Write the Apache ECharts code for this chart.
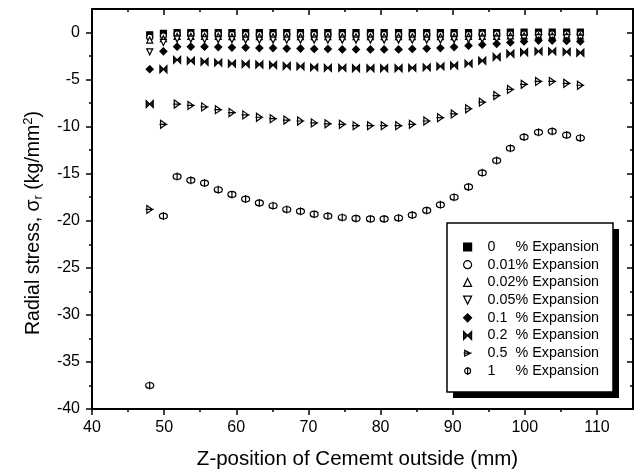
<!DOCTYPE html>
<html>
<head>
<meta charset="utf-8">
<script src="https://cdn.jsdelivr.net/npm/echarts@6/dist/echarts.min.js"></script>
<style>html,body{margin:0;padding:0;background:#fff}#c{width:640px;height:475px}</style>
</head>
<body>
<div id="c"></div>
<script>
// Z-position (mm)
const xs = [48.0, 49.9, 51.8, 53.7, 55.6, 57.5, 59.4, 61.3, 63.2, 65.1, 67.0, 68.9, 70.8, 72.7, 74.7, 76.6,
            78.6, 80.5, 82.5, 84.4, 86.4, 88.3, 90.2, 92.2, 94.1, 96.1, 98.0, 99.9, 101.9, 103.8, 105.8, 107.7];
// Radial stress (kg/mm^2) for each expansion ratio
const s0   = [-0.25,-0.1,0.0,0.0,0.0,0.0,0.0,0.0,0.0,0.0,0.0,0.0,0.0,0.0,0.0,0.0,0.0,0.0,0.0,0.0,0.0,0.0,0.0,0.0,0.0,0.0,0.05,0.05,0.05,0.05,0.05,0.05];
const s001 = [-0.5,-0.35,-0.15,-0.15,-0.15,-0.15,-0.2,-0.2,-0.2,-0.2,-0.2,-0.2,-0.2,-0.2,-0.2,-0.2,-0.2,-0.2,-0.2,-0.2,-0.2,-0.2,-0.2,-0.2,-0.15,-0.15,-0.15,-0.15,-0.15,-0.15,-0.15,-0.15];
const s002 = [-0.8,-0.65,-0.4,-0.4,-0.4,-0.4,-0.45,-0.45,-0.45,-0.45,-0.45,-0.45,-0.45,-0.45,-0.45,-0.45,-0.45,-0.45,-0.45,-0.45,-0.45,-0.45,-0.45,-0.4,-0.4,-0.4,-0.35,-0.35,-0.35,-0.35,-0.35,-0.35];
const s005 = [-2.05,-1.05,-0.7,-0.7,-0.75,-0.75,-0.75,-0.8,-0.8,-0.8,-0.8,-0.8,-0.8,-0.8,-0.8,-0.8,-0.8,-0.8,-0.8,-0.8,-0.8,-0.8,-0.75,-0.75,-0.7,-0.7,-0.65,-0.6,-0.55,-0.55,-0.55,-0.6];
const s01  = [-3.9,-2.0,-1.5,-1.5,-1.5,-1.55,-1.6,-1.6,-1.65,-1.65,-1.7,-1.7,-1.75,-1.75,-1.8,-1.8,-1.8,-1.8,-1.8,-1.75,-1.7,-1.65,-1.55,-1.4,-1.3,-1.2,-1.05,-0.95,-0.85,-0.85,-0.9,-0.95];
const s02  = [-7.6,-3.9,-2.9,-3.0,-3.1,-3.2,-3.3,-3.35,-3.4,-3.45,-3.55,-3.6,-3.7,-3.75,-3.75,-3.8,-3.8,-3.8,-3.8,-3.75,-3.7,-3.6,-3.5,-3.3,-3.0,-2.6,-2.25,-2.1,-2.0,-2.0,-2.05,-2.15];
const s05  = [-18.8,-9.75,-7.6,-7.75,-7.9,-8.2,-8.5,-8.75,-9.0,-9.15,-9.3,-9.4,-9.6,-9.7,-9.75,-9.9,-9.9,-9.9,-9.9,-9.75,-9.4,-9.05,-8.65,-8.1,-7.4,-6.7,-6.05,-5.5,-5.2,-5.2,-5.4,-5.6];
const s1   = [-37.5,-19.5,-15.3,-15.7,-16.0,-16.7,-17.2,-17.7,-18.1,-18.4,-18.8,-19.0,-19.3,-19.5,-19.65,-19.75,-19.8,-19.8,-19.7,-19.4,-18.9,-18.3,-17.5,-16.4,-14.9,-13.6,-12.3,-11.1,-10.6,-10.5,-10.9,-11.2];
const expansions = ['0', '0.01', '0.02', '0.05', '0.1', '0.2', '0.5', '1'];
const values = [s0, s001, s002, s005, s01, s02, s05, s1];
// tick values
const xMajor = [40, 50, 60, 70, 80, 90, 100, 110];
const xMinor = [45, 55, 65, 75, 85, 95, 105];
const yMajor = [-40, -35, -30, -25, -20, -15, -10, -5, 0];
const yMinor = [-37.5, -32.5, -27.5, -22.5, -17.5, -12.5, -7.5, -2.5];

const FONT = 'Liberation Sans, Arial, sans-serif';
const markers = [
  {symbol: 'rect', size: 6, fill: '#000'},
  {symbol: 'circle', size: 6, fill: '#fff'},
  {symbol: 'triangle', size: 6, fill: '#fff'},
  {symbol: 'path://M-1,-1L1,-1L0,1Z', size: 6, fill: '#fff'},
  {symbol: 'diamond', size: 7, fill: '#000'},
  {symbol: 'path://M-1,-1L1,1L1,-1L-1,1Z', size: 7, fill: '#222'},
  {symbol: 'path://M-1,-1L1,0L-1,1Z M-1.4,0L1.4,0', size: 8, fill: '#fff'},
  {symbol: 'path://M-1,0A1,1,0,1,1,1,0A1,1,0,1,1,-1,0Z M0,-1.35L0,1.35', size: 8, fill: '#fff'}
];
const seriesName = e => e + ' % Expansion';

const series = expansions.map((e, k) => ({
  name: seriesName(e),
  type: 'scatter',
  xAxisIndex: 0, yAxisIndex: 0,
  symbol: markers[k].symbol,
  symbolSize: markers[k].size,
  itemStyle: {color: markers[k].fill, borderColor: '#000', borderWidth: 1.2, opacity: 1},
  data: xs.map((x, i) => [x, values[k][i]]),
  z: 2 + k * 0.01
}));

const lineStyle = {color: '#000', width: 2};
function xAx(pos, vals, len, inside, labels, line) {
  return {
    type: 'value', position: pos, min: 40, max: 115, interval: 5,
    axisLine: {show: line, onZero: false, lineStyle: lineStyle},
    axisTick: {show: true, inside: inside, length: len, customValues: vals, lineStyle: {color: '#000', width: 1.5}},
    axisLabel: labels ? {show: true, customValues: vals, margin: 11, color: '#000', fontSize: 16, fontFamily: FONT} : {show: false},
    splitLine: {show: false}
  };
}
function yAx(pos, vals, len, inside, labels, line) {
  return {
    type: 'value', position: pos, min: -40, max: 2.5, interval: 2.5,
    axisLine: {show: line, onZero: false, lineStyle: lineStyle},
    axisTick: {show: true, inside: inside, length: len, customValues: vals, lineStyle: {color: '#000', width: 1.5}},
    axisLabel: labels ? {show: true, customValues: vals, margin: 12, color: '#000', fontSize: 16, fontFamily: FONT} : {show: false},
    splitLine: {show: false}
  };
}
const xAxes = [xAx('bottom', xMajor, 6, false, true, true), xAx('bottom', xMinor, 3, false, false, false),
               xAx('top', xMajor, 6, true, false, true), xAx('top', xMinor, 3, true, false, false)];
const yAxes = [yAx('left', yMajor, 6, false, true, true), yAx('left', yMinor, 3, false, false, false),
               yAx('right', yMajor, 6, true, false, true), yAx('right', yMinor, 3, true, false, false)];
Object.assign(xAxes[0], {
  name: 'Z-position of Cememt outside (mm)', nameLocation: 'middle', nameGap: 40,
  nameTextStyle: {fontSize: 20.5, fontFamily: FONT, color: '#000', padding: [0, 10, 0, 0]}
});
Object.assign(yAxes[0], {
  name: 'Radial stress, σ{sub|r} (kg/mm{sup|2})', nameLocation: 'middle', nameGap: 47, nameRotate: 90,
  nameTextStyle: {fontSize: 19.5, fontFamily: FONT, color: '#000', padding: [0, 28, 0, 0],
    rich: {sub: {fontSize: 13, fontFamily: FONT, color: '#000', padding: [10, 0, 0, 0]},
           sup: {fontSize: 13, fontFamily: FONT, color: '#000', padding: [0, 0, 10, 0]}}}
});

const chart = echarts.init(document.getElementById('c'), null, {renderer: 'canvas'});
chart.setOption({
  animation: false,
  backgroundColor: '#fff',
  grid: {left: 92, top: 9, right: 7, bottom: 64, containLabel: false},
  xAxis: xAxes,
  yAxis: yAxes,
  graphic: [
    {type: 'rect', shape: {x: 453, y: 229, width: 166, height: 169}, style: {fill: '#000'}, z: 3},
    {type: 'rect', shape: {x: 447, y: 223, width: 166, height: 169}, style: {fill: '#fff', stroke: '#000', lineWidth: 1.5}, z: 3}
  ],
  legend: {
    orient: 'vertical', left: 447, top: 223, padding: [16, 16, 13, 16],
    itemWidth: 8, itemHeight: 8, itemGap: 1.7, itemStyle: {borderWidth: 1.2},
    data: expansions.map(seriesName),
    formatter: name => '{n|' + name.split(' ')[0] + '}{t|% Expansion}',
    textStyle: {color: '#000', fontFamily: FONT, fontSize: 14, lineHeight: 16,
      rich: {n: {width: 28, padding: [0, 0, 0, 11], fontSize: 14.3, fontFamily: FONT, color: '#000'},
             t: {fontSize: 14.3, fontFamily: FONT, color: '#000'}}},
    z: 5
  },
  series: series
});
</script>
</body>
</html>
